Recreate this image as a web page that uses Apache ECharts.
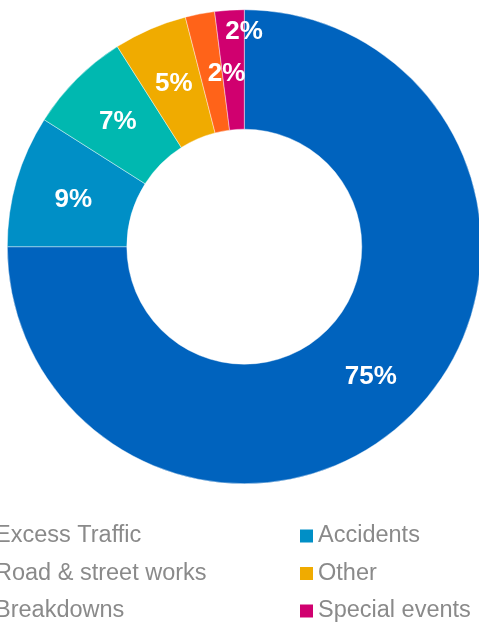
<!DOCTYPE html>
<html><head><meta charset="utf-8">
<script src="https://cdn.jsdelivr.net/npm/echarts@6/dist/echarts.min.js"></script>
<style>html,body{margin:0;padding:0;background:#fff}#c{width:479px;height:622px}</style>
</head><body><div id="c"></div>
<script>
const categories = ['Excess Traffic','Accidents','Road & street works','Other','Breakdowns','Special events'];
const values = [75, 9, 7, 5, 2, 2];
const colors = ['#0063BE','#008FC6','#00B8B0','#F0AB00','#FF6319','#D0006F'];
const leftLegend = ['Excess Traffic','Road & street works','Breakdowns'];
const rightLegend = ['Accidents','Other','Special events'];
const labelShift = {0:[-1,3],1:[2,3],2:[1,3],3:[1,3],4:[16,4],5:[11,-35]};

const chart = echarts.init(document.getElementById('c'), null, {renderer:'canvas'});
const legendCommon = {
  orient:'vertical', top:523, height:150, width:250, itemWidth:13, itemHeight:13, itemGap:11.5, icon:'rect',
  textStyle:{color:'#8a8a8a', fontSize:23.5, fontFamily:'Liberation Sans', lineHeight:26, padding:[0,0,0,0]},
  itemStyle:{borderWidth:0}, padding:0, selectedMode:false
};
chart.setOption({
  animation:false,
  color: colors,
  legend:[
    Object.assign({}, legendCommon, {left:-23, data:leftLegend}),
    Object.assign({}, legendCommon, {left:300, data:rightLegend})
  ],
  series:[{
    type:'pie',
    center:[244.3,246.7],
    radius:[117.5,237],
    startAngle:90,
    clockwise:true,
    avoidLabelOverlap:false,
    itemStyle:{borderColor:'rgba(255,255,255,0.6)', borderWidth:0.7},
    label:{show:true, position:'inside', formatter:'{d}%', color:'#fff', fontSize:26, fontWeight:'bold', fontFamily:'Liberation Sans'},
    labelLayout:function(p){ const s = labelShift[p.dataIndex]; return s ? {dx:s[0], dy:s[1]} : {}; },
    emphasis:{disabled:true},
    data: categories.map((n,i)=>({name:n, value:values[i]}))
  }]
});
</script></body></html>
